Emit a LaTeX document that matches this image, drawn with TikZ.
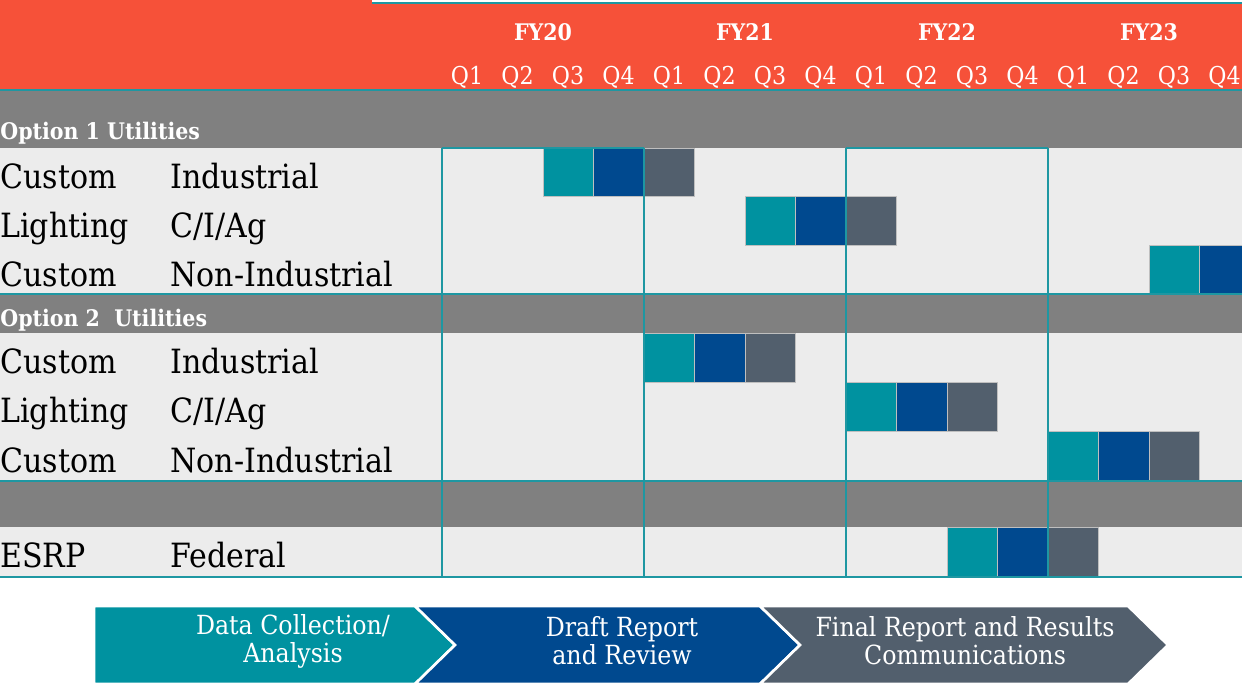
\documentclass[tikz,border=0pt]{standalone}
\usepackage{fontspec}
\setmainfont{DejaVu Serif Condensed}
\usetikzlibrary{positioning}
\definecolor{rouge}{HTML}{F65139}
\definecolor{sarcelle}{HTML}{0092A0}
\definecolor{marine}{HTML}{00498F}
\definecolor{ardoise}{HTML}{525F6D}
\definecolor{bande}{HTML}{808080}
\definecolor{fond}{HTML}{ECECEC}
\definecolor{trait}{HTML}{1E97A2}
\begin{document}
\begin{tikzpicture}[x=0.02cm,y=-0.02cm,
    lbl/.style={anchor=base west,inner sep=0pt,font=\fontsize{19}{22}\selectfont},
    groupe/.style={anchor=base west,inner sep=0pt,text=white,font=\bfseries\fontsize{13}{15}\selectfont},
    entete/.style={anchor=base,inner sep=0pt,text=white,font=\fontsize{14}{16}\selectfont},
    etape/.style={inner sep=0pt,text=white,align=center,font=\fontsize{15}{16}\selectfont},
    grille/.style={draw=trait,line width=0.9pt},
    fleche/.style={draw=white,line width=1.5pt}]
 \useasboundingbox (0,0) rectangle (1242,687);
 \clip (0,0) rectangle (1242,687);

 \fill[rouge] (0,0) rectangle (372,4);
 \fill[rouge] (0,4) rectangle (1242,90);
 \fill[bande] (0,90) rectangle (1242,148);
 \fill[fond] (0,148) rectangle (1242,294);
 \fill[bande] (0,294) rectangle (1242,333);
 \fill[fond] (0,333) rectangle (1242,481);
 \fill[bande] (0,481) rectangle (1242,527);
 \fill[fond] (0,527) rectangle (1242,577);

 \foreach \an [count=\i from 0] in {20,21,22,23}
    \node[entete,font=\bfseries\fontsize{13}{15}\selectfont] (fy\an) at ({543+202*\i},40) {FY\an};
 \foreach \k in {0,...,15}{
    \pgfmathtruncatemacro\trim{mod(\k,4)+1}
    \node[entete] (q\k) at ({467+50.5*\k},84) {Q\trim};
 }

 \foreach \c/\t/\h in {2/148/48,6/196/49,14/245/49,4/333/49,8/382/49,12/431/50,10/527/50}{
    \draw[fill=sarcelle,draw=gray!50,line width=0.3pt] ({442+50.5*\c},\t) rectangle ++(50.5,\h);
    \draw[fill=marine,draw=gray!50,line width=0.3pt] ({442+50.5*(\c+1)},\t) rectangle ++(50.5,\h);
    \draw[fill=ardoise,draw=gray!50,line width=0.3pt] ({442+50.5*(\c+2)},\t) rectangle ++(50.5,\h);
 }

 \draw[grille] (372,3) -- (1242,3);
 \draw[grille] (0,90) -- (1242,90);
 \draw[grille] (442,148) -- (644,148) (846,148) -- (1048,148);
 \draw[grille] (0,294) -- (1242,294);
 \draw[grille] (0,481) -- (1242,481);
 \draw[grille] (0,577) -- (1242,577);
 \foreach \x in {442,644,846,1048}
    \draw[grille] (\x,148) -- (\x,577);

 \node[groupe] (opt1) at (0,139) {Option 1 Utilities};
 \node[groupe] (opt2) at (0,326) {Option 2\ \ Utilities};

 \node[lbl] (prog1) at (0,188) {Custom};
 \node[lbl] (sect1) at (170,188) {Industrial};
 \node[lbl] (prog2) at (0,237) {Lighting};
 \node[lbl] (sect2) at (170,237) {C/I/Ag};
 \node[lbl] (prog3) at (0,286) {Custom};
 \node[lbl] (sect3) at (170,286) {Non-Industrial};
 \node[lbl] (prog4) at (0,373) {Custom};
 \node[lbl] (sect4) at (170,373) {Industrial};
 \node[lbl] (prog5) at (0,422) {Lighting};
 \node[lbl] (sect5) at (170,422) {C/I/Ag};
 \node[lbl] (prog6) at (0,472) {Custom};
 \node[lbl] (sect6) at (170,472) {Non-Industrial};
 \node[lbl] (prog7) at (0,567) {ESRP};
 \node[lbl] (sect7) at (170,567) {Federal};

 \path[coordinate] (94,606) coordinate(A)
             (415,606) coordinate(B)
             (760,606) coordinate(C)
             (1128,606) coordinate(D);
 \draw[fleche,fill=sarcelle] (A) -- (B) -- ++(40,39) -- ++(-40,39) -- ++(-321,0) -- cycle;
 \draw[fleche,fill=marine] (B) -- (C) -- ++(40,39) -- ++(-40,39) -- (415,684) -- ++(40,-39) -- cycle;
 \draw[fleche,fill=ardoise] (C) -- (D) -- ++(40,39) -- ++(-40,39) -- (760,684) -- ++(40,-39) -- cycle;

 \node[etape] (collecte) at (293,641) {Data Collection/\\Analysis};
 \node[etape] (brouillon) at (622,641) {Draft Report\\and Review};
 \node[etape] (final) at (965,641) {Final Report and Results\\Communications};
\end{tikzpicture}
\end{document}
